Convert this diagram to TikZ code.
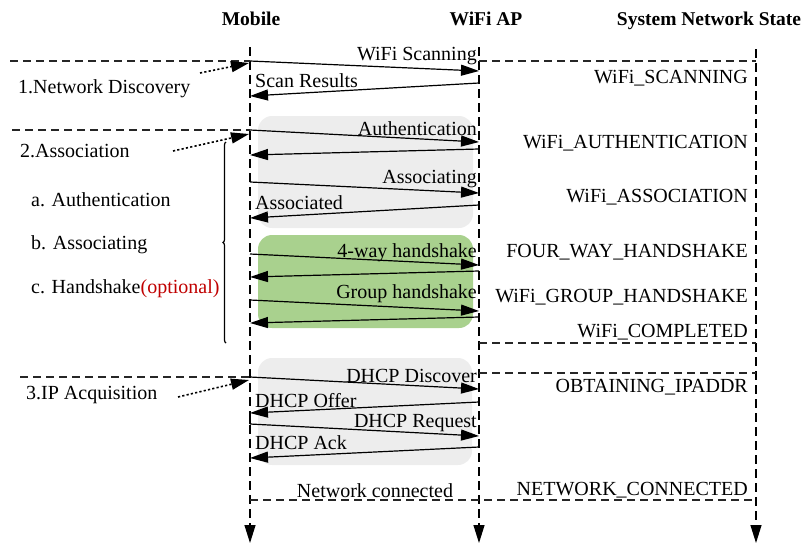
\documentclass[tikz,border=0pt]{standalone}
\usepackage{fontspec}
\setmainfont{Liberation Serif}
\usetikzlibrary{arrows.meta,decorations.pathreplacing}
\definecolor{boxgray}{HTML}{EDEDED}
\definecolor{boxgreen}{HTML}{A9D18E}
\definecolor{optred}{HTML}{C00000}
\tikzset{
  lbl/.style={inner sep=0pt, font=\fontsize{20}{23}\selectfont},
  hdr/.style={inner sep=0pt, font=\fontsize{19.5}{23}\selectfont\bfseries},
  tipA/.style={-{Triangle[length=18pt,width=11pt]}},
  msg/.style={line width=1.2pt, tipA},
  lifeline/.style={line width=1.2pt, dash pattern=on 9pt off 5pt, tipA},
  sepline/.style={line width=1.2pt, dash pattern=on 8pt off 5pt, black!85},
  pointer/.style={line width=1.6pt, dash pattern=on 2.2pt off 2.2pt, tipA},
  phase/.style={rounded corners=14pt}
}
\begin{document}
\begin{tikzpicture}[x=1pt,y=-1pt]
\useasboundingbox (0,0) rectangle (808,544);

% background boxes
\path[phase, fill=boxgray]  (258,116) rectangle (473,228);
\path[phase, fill=boxgreen] (258,235) rectangle (473,328);
\path[phase, fill=boxgray]  (258,358) rectangle (472,465);

% lifelines
\coordinate (mT) at (250,47);  \coordinate (mB) at (250,543);
\coordinate (aT) at (479,47);  \coordinate (aB) at (479,543);
\coordinate (sT) at (756,49);  \coordinate (sB) at (756,543);
\draw[lifeline] (mT) -- (mB);
\draw[lifeline] (aT) -- (aB);
\draw[lifeline] (sT) -- (sB);

% headers
\node[hdr, anchor=base] (hM) at (251,25) {Mobile};
\node[hdr, anchor=base] (hA) at (486,25) {WiFi AP};
\node[hdr, anchor=base] (hS) at (709,25) {System Network State};

% separators
\coordinate (l1) at (10,61);  \coordinate (m1) at (250,61);
\coordinate (a1) at (479,61); \coordinate (s1) at (756,61);
\draw[sepline] (l1) -- (m1);
\draw[sepline] (a1) -- (s1);
\coordinate (l2) at (12,130); \coordinate (m2) at (250,130);
\draw[sepline] (l2) -- (m2);
\coordinate (a3) at (479,343); \coordinate (s3) at (756,343);
\draw[sepline] (a3) -- (s3);
\coordinate (l4) at (20,377); \coordinate (m4) at (250,377);
\draw[sepline] (l4) -- (m4);
\coordinate (a4) at (479,373); \coordinate (s4) at (756,373);
\draw[sepline] (a4) -- (s4);
\coordinate (m5) at (250,500); \coordinate (s5) at (756,500);
\draw[sepline] (m5) -- (s5);

% messages
\coordinate (e1) at (479,71);  \draw[msg] (m1) -- (e1);
\coordinate (b2s) at (479,83); \coordinate (b2e) at (250,96); \draw[msg] (b2s) -- (b2e);
\coordinate (e3) at (479,142); \draw[msg] (m2) -- (e3);
\coordinate (b4s) at (479,149); \coordinate (b4e) at (250,155); \draw[msg] (b4s) -- (b4e);
\coordinate (f5s) at (250,182); \coordinate (f5e) at (479,193); \draw[msg] (f5s) -- (f5e);
\coordinate (b6s) at (479,205); \coordinate (b6e) at (250,218); \draw[msg] (b6s) -- (b6e);
\coordinate (f7s) at (250,254); \coordinate (f7e) at (479,265); \draw[msg] (f7s) -- (f7e);
\coordinate (b8s) at (479,271); \coordinate (b8e) at (250,277); \draw[msg] (b8s) -- (b8e);
\coordinate (f9s) at (250,300); \coordinate (f9e) at (479,311); \draw[msg] (f9s) -- (f9e);
\coordinate (b10s) at (479,317); \coordinate (b10e) at (250,323); \draw[msg] (b10s) -- (b10e);
\coordinate (f11e) at (479,389); \draw[msg] (m4) -- (f11e);
\coordinate (b12s) at (479,402); \coordinate (b12e) at (250,413); \draw[msg] (b12s) -- (b12e);
\coordinate (f13s) at (250,424); \draw[line width=1.2pt] (b12e) -- (f13s);
\coordinate (f13e) at (479,436); \draw[msg] (f13s) -- (f13e);
\coordinate (b14s) at (479,447); \coordinate (b14e) at (250,458); \draw[msg] (b14s) -- (b14e);

% message labels
\node[lbl, anchor=base east] (t1) at (477,60) {WiFi Scanning};
\node[lbl, anchor=base west] (t2) at (255,87) {Scan Results};
\node[lbl, anchor=base east] (t3) at (477,135) {Authentication};
\node[lbl, anchor=base east] (t5) at (477,183) {Associating};
\node[lbl, anchor=base west] (t6) at (255,209) {Associated};
\node[lbl, anchor=base east] (t7) at (477,257) {4-way handshake};
\node[lbl, anchor=base east] (t9) at (477,298) {Group handshake};
\node[lbl, anchor=base east] (t11) at (477,382) {DHCP Discover};
\node[lbl, anchor=base west] (t12) at (255,407) {DHCP Offer};
\node[lbl, anchor=base east] (t13) at (477,427) {DHCP Request};
\node[lbl, anchor=base west] (t14) at (255,449) {DHCP Ack};
\node[lbl, anchor=base] (t15) at (375,497) {Network connected};

% state labels
\node[lbl, anchor=base east] (s_scan) at (748,83) {WiFi\_SCANNING};
\node[lbl, anchor=base east] (s_auth) at (748,148) {WiFi\_AUTHENTICATION};
\node[lbl, anchor=base east] (s_assoc) at (748,202) {WiFi\_ASSOCIATION};
\node[lbl, anchor=base east] (s_four) at (748,257) {FOUR\_WAY\_HANDSHAKE};
\node[lbl, anchor=base east] (s_group) at (748,302) {WiFi\_GROUP\_HANDSHAKE};
\node[lbl, anchor=base east] (s_comp) at (748,337) {WiFi\_COMPLETED};
\node[lbl, anchor=base east] (s_ip) at (748,392) {OBTAINING\_IPADDR};
\node[lbl, anchor=base east] (s_net) at (748,495) {NETWORK\_CONNECTED};

% phase labels
\node[lbl, anchor=base west] (p1) at (18,93) {1.Network Discovery};
\node[lbl, anchor=base west] (p2) at (20,157) {2.Association};
\node[lbl, anchor=base west] (pa) at (31,206) {a. Authentication};
\node[lbl, anchor=base west] (pb) at (31,249) {b. Associating};
\node[lbl, anchor=base west] (pc) at (31,293) {c. Handshake\textcolor{optred}{(optional)}};
\node[lbl, anchor=base west] (p3) at (26,399) {3.IP Acquisition};

% pointers
\coordinate (d1s) at (200,73);  \coordinate (d1e) at (249,63);  \draw[pointer] (d1s) -- (d1e);
\coordinate (d2s) at (173,151); \coordinate (d2e) at (249,134); \draw[pointer] (d2s) -- (d2e);
\coordinate (d3s) at (178,397); \coordinate (d3e) at (249,380); \draw[pointer] (d3s) -- (d3e);

% brace
\coordinate (brB) at (226,343); \coordinate (brT) at (226,142);
\draw[line width=1.2pt, decorate, decoration={brace, amplitude=3pt}] (brB) -- (brT);
\end{tikzpicture}
\end{document}
